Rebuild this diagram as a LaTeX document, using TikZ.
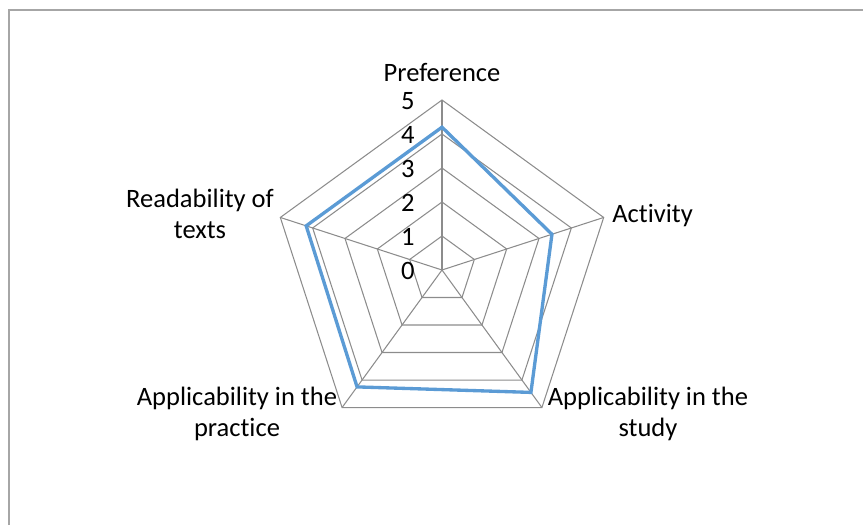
\documentclass[tikz,border=0pt]{standalone}
\usepackage{fontspec}
\setmainfont{Carlito}[Ligatures=NoCommon]
\definecolor{gridgray}{HTML}{8C8C8C}
\definecolor{framegray}{HTML}{A6A6A6}
\definecolor{serieblue}{HTML}{5B9BD5}
\tikzstyle{every node}=[inner sep=0pt, font=\fontsize{15.1}{17.6}\selectfont]
\tikzstyle{gridline}=[draw=gridgray, line width=0.6pt]
\tikzstyle{series}=[draw=serieblue, line width=1.9pt, line join=miter]
\tikzstyle{axislabel}=[align=center, anchor=base]

\begin{document}
\begin{tikzpicture}[x=0.02cm, y=0.02cm]
    \useasboundingbox (0,0) rectangle (863,525);
    \draw[framegray, line width=0.9pt] (9,0) -- (9,515) -- (863,515);
    \begin{scope}[shift={(442,255)}]
    \foreach \r in {34,68,102,136,170}
        \draw[gridline] (90:\r) -- (18:\r) -- (-54:\r) -- (-126:\r) -- (162:\r) -- cycle;
    \foreach \a in {18,-54,-126,162}
        \draw[gridline] (0,0) -- (\a:170);
    \draw[gridline, line width=1.1pt] (0,0) -- (90:170);
    \foreach \k in {0,...,5}
        \node[anchor=east] (tick\k) at (-27,34*\k-1) {\k};
    \draw[series] (90:4.2*34) -- (18:3.4*34) -- (-54:4.45*34) -- (-126:4.25*34) -- (162:4.2*34) -- cycle;
    \end{scope}
    \node[axislabel] (pref) at (442,443) {Preference};
    \node[anchor=base west] (act) at (612,302) {Activity};
    \node[axislabel] (study) at (648,89) {Applicability in the\\study};
    \node[axislabel] (pract) at (237,89) {Applicability in the\\practice};
    \node[axislabel] (read) at (200,287) {Readability of\\texts};
  \end{tikzpicture}
\end{document}
